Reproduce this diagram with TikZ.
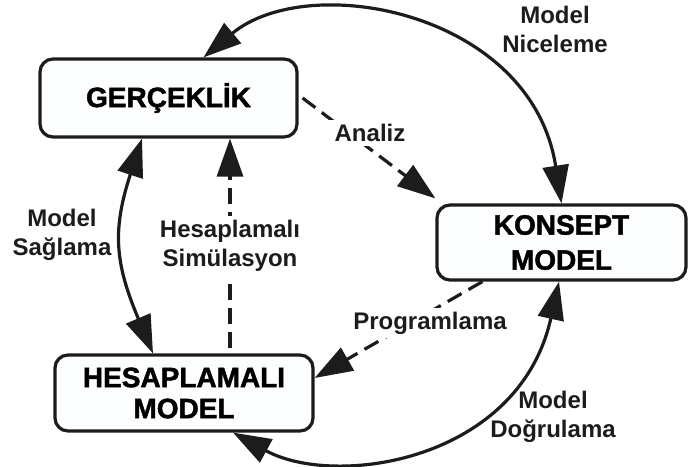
\documentclass[tikz,border=0pt]{standalone}
\usepackage{fontspec}
\setmainfont{Liberation Sans}
\newfontfamily\heavyfont{Liberation Sans Bold}[FakeBold=1.6]
\usetikzlibrary{arrows.meta}
\definecolor{boxfill}{RGB}{251,253,254}
\definecolor{ink}{RGB}{28,28,28}
\begin{document}
\begin{tikzpicture}[x=1pt,y=-1pt,
  box/.style={draw=ink, line width=3.2pt, rounded corners=13pt, fill=boxfill,
    inner sep=0pt, align=center, font=\heavyfont\fontsize{28}{33}\selectfont},
  lbl/.style={align=center, font=\bfseries\fontsize{24}{29}\selectfont, text=ink},
  lblbg/.style={lbl, fill=white, inner xsep=6pt, inner ysep=4pt},
  head/.tip={Triangle[length=38pt,width=26pt]},
  tip/.style={-head},
  both/.style={head-head},
  flow/.style={draw=ink, line width=3.2pt},
  dashflow/.style={flow, dash pattern=on 16pt off 8pt},
]
\useasboundingbox (0,0) rectangle (688,466);

% the three model stages
\node[box, minimum width=257pt, minimum height=78pt] (ger) at (168.5,98) {GERÇEKLİK};
\node[box, minimum width=249pt, minimum height=75pt,
  font=\heavyfont\fontsize{28}{35}\selectfont] (kon) at (561.5,242.5) {KONSEPT\\MODEL};
\node[box, minimum width=258pt, minimum height=76pt,
  font=\heavyfont\fontsize{28}{31}\selectfont] (hes) at (184,393) {HESAPLAMALI\\MODEL};

% outer cycle (two-headed arcs)
\draw[flow, both] ([xshift=35pt]ger.north) .. controls +(105,-87.5) and +(-30,-192) .. (kon.north);
\draw[flow, both] ([xshift=-26.5pt]ger.south) .. controls +(-30,92) and +(-38,-90) .. ([xshift=-31pt]hes.north);
\draw[flow, both] ([xshift=49pt]hes.south) .. controls +(102,56) and +(-40,180) .. ([xshift=-2.5pt]kon.south);

% inner dashed steps
\draw[dashflow, tip] ([xshift=4pt]ger.east) -- ([yshift=5pt]kon.north west);
\draw[dashflow, tip] ([xshift=46pt,yshift=5pt]hes.north) -- ([xshift=46pt]hes.north |- ger.south);
\draw[dashflow, tip] ([xshift=47pt]kon.south west) -- ([yshift=15pt]hes.east);

% labels
\node[lbl] (nic) at (555,29) {Model\\Niceleme};
\node[lblbg] (ana) at (370,133) {Analiz};
\node[lbl] (sag) at (62,235) {Model\\Sağlama};
\node[lblbg] (sim) at (230,246) {Hesaplamalı\\Simülasyon};
\node[lblbg] (prg) at (430,323) {Programlama};
\node[lbl] (dog) at (553,417) {Model\\Doğrulama};
\end{tikzpicture}
\end{document}
